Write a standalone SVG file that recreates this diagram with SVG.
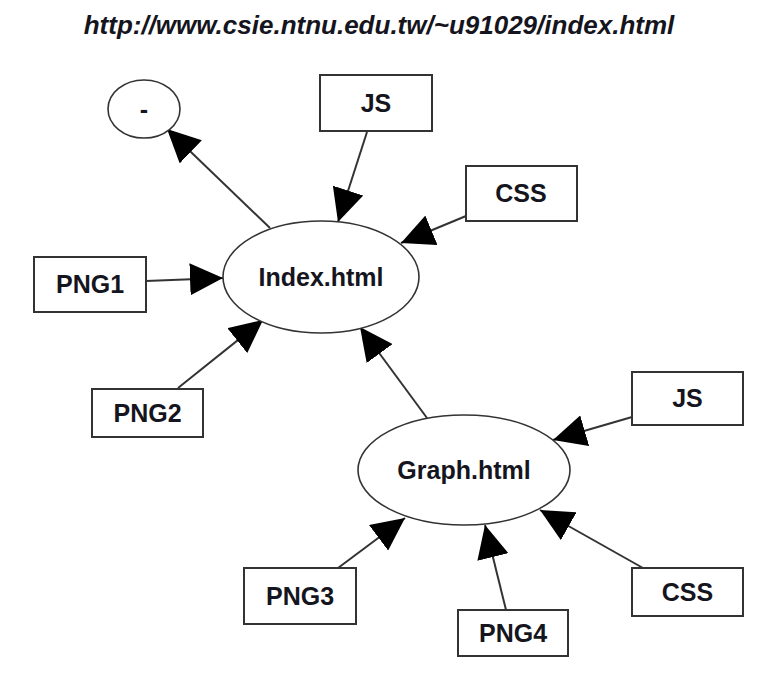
<svg xmlns="http://www.w3.org/2000/svg" width="766" height="680" viewBox="0 0 766 680">
<style>
.bg{fill:#ffffff}
.box{fill:#ffffff;stroke:#333333;stroke-width:2}
.ell{fill:#ffffff;stroke:#333333;stroke-width:1.6}
.lbl{font-family:"Liberation Sans",Arial,sans-serif;font-weight:bold;font-size:25px;fill:#151520;text-anchor:middle}
.title{font-family:"Liberation Sans",Arial,sans-serif;font-weight:bold;font-style:italic;font-size:26px;fill:#151520;text-anchor:middle}
.edge{stroke:#333333;stroke-width:2;fill:none;marker-end:url(#arr)}
</style>
<defs>
<marker id="arr" viewBox="0 0 33 32" refX="33" refY="16" markerWidth="33" markerHeight="32" markerUnits="userSpaceOnUse" orient="auto">
<path d="M0,0 L33,16 L0,32 z" fill="#000000"/>
</marker>
</defs>
<rect class="bg" x="0" y="0" width="766" height="680"/>
<text id="title" class="title" x="379" y="34">http://www.csie.ntnu.edu.tw/~u91029/index.html</text>
<g id="edges">
<line class="edge" x1="270" y1="228" x2="167" y2="129"/>
<line class="edge" x1="367" y1="132" x2="338" y2="222"/>
<line class="edge" x1="466" y1="216" x2="401" y2="243"/>
<line class="edge" x1="146" y1="281" x2="223" y2="278"/>
<line class="edge" x1="178" y1="388" x2="263" y2="320"/>
<line class="edge" x1="427" y1="418" x2="360" y2="327"/>
<line class="edge" x1="632" y1="417" x2="553" y2="440"/>
<line class="edge" x1="338" y1="568" x2="405" y2="518"/>
<line class="edge" x1="506" y1="610" x2="485" y2="525"/>
<line class="edge" x1="643" y1="568" x2="540" y2="510"/>
</g>
<g id="node-dash"><ellipse class="ell" cx="144" cy="109" rx="36" ry="29"/><text class="lbl" x="144" y="118">-</text></g>
<g id="node-js1"><rect class="box" x="320" y="75" width="112" height="56"/><text class="lbl" x="376" y="112">JS</text></g>
<g id="node-css1"><rect class="box" x="466" y="166" width="111" height="55"/><text class="lbl" x="521" y="202">CSS</text></g>
<g id="node-index"><ellipse class="ell" cx="321" cy="277" rx="98" ry="56"/><text class="lbl" x="321" y="286">Index.html</text></g>
<g id="node-png1"><rect class="box" x="34" y="257" width="112" height="55"/><text class="lbl" x="90" y="293">PNG1</text></g>
<g id="node-png2"><rect class="box" x="92" y="389" width="111" height="48"/><text class="lbl" x="147.5" y="422">PNG2</text></g>
<g id="node-graph"><ellipse class="ell" cx="464" cy="470" rx="106" ry="55"/><text class="lbl" x="464" y="479">Graph.html</text></g>
<g id="node-js2"><rect class="box" x="632" y="372" width="111" height="53"/><text class="lbl" x="687.5" y="407">JS</text></g>
<g id="node-png3"><rect class="box" x="244" y="568" width="112" height="56"/><text class="lbl" x="300" y="605">PNG3</text></g>
<g id="node-png4"><rect class="box" x="458" y="610" width="110" height="46"/><text class="lbl" x="513" y="642">PNG4</text></g>
<g id="node-css2"><rect class="box" x="632" y="568" width="111" height="48"/><text class="lbl" x="687.5" y="601">CSS</text></g>
</svg>
